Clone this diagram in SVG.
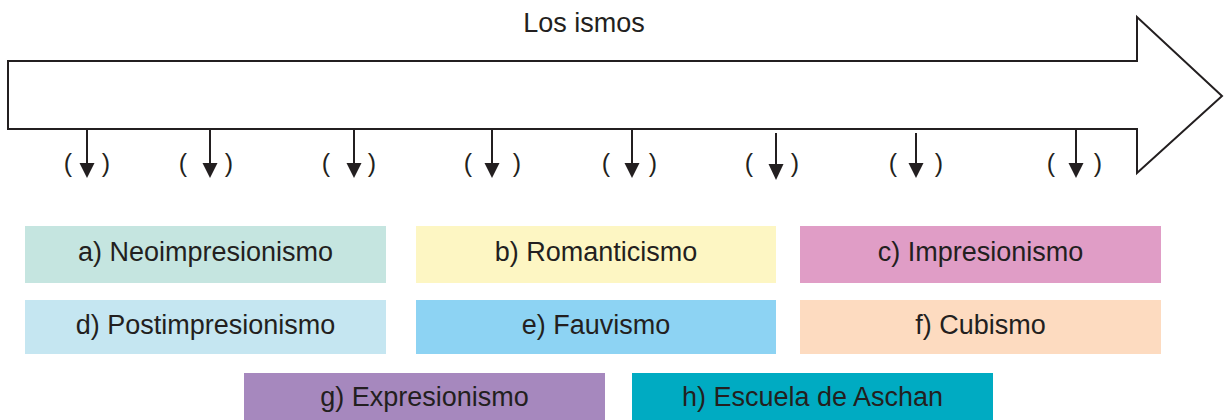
<svg xmlns="http://www.w3.org/2000/svg" width="1224" height="420" viewBox="0 0 1224 420">
<style>
.lbl{font-family:"Liberation Sans",Arial,sans-serif;font-size:27px;fill:#231f20;text-anchor:middle}
.par{font-family:"Liberation Sans",Arial,sans-serif;font-size:25px;fill:#231f20;text-anchor:middle}
.sh{stroke:#231f20;stroke-width:2;fill:none}
</style>
<rect width="1224" height="420" fill="#ffffff"/>
<g id="timeline">
<polygon points="8,61 1137,61 1137,17 1222,96 1137,173 1137,129 8,129" fill="#ffffff" stroke="#231f20" stroke-width="2"/>
<text class="lbl" x="584" y="32">Los ismos</text>
</g>
<g id="connectors">
<line class="sh" x1="87" y1="129" x2="87" y2="163"/><path d="M79.5,163 L94.5,163 L87,178 Z" fill="#231f20"/>
<line class="sh" x1="210" y1="129" x2="210" y2="163"/><path d="M202.5,163 L217.5,163 L210,178 Z" fill="#231f20"/>
<line class="sh" x1="354" y1="129" x2="354" y2="163"/><path d="M346.5,163 L361.5,163 L354,178 Z" fill="#231f20"/>
<line class="sh" x1="492" y1="129" x2="492" y2="163"/><path d="M484.5,163 L499.5,163 L492,178 Z" fill="#231f20"/>
<line class="sh" x1="632" y1="129" x2="632" y2="163"/><path d="M624.5,163 L639.5,163 L632,178 Z" fill="#231f20"/>
<line class="sh" x1="776" y1="133" x2="776" y2="164"/><path d="M768.5,164 L783.5,164 L776,180 Z" fill="#231f20"/>
<line class="sh" x1="916" y1="133" x2="916" y2="163"/><path d="M908.5,163 L923.5,163 L916,178 Z" fill="#231f20"/>
<line class="sh" x1="1076" y1="129" x2="1076" y2="163"/><path d="M1068.5,163 L1083.5,163 L1076,178 Z" fill="#231f20"/>
</g>
<g id="blanks">
<text class="par" x="68" y="172">(</text><text class="par" x="106" y="172">)</text>
<text class="par" x="183" y="172">(</text><text class="par" x="229" y="172">)</text>
<text class="par" x="326" y="172">(</text><text class="par" x="372" y="172">)</text>
<text class="par" x="468" y="172">(</text><text class="par" x="517" y="172">)</text>
<text class="par" x="606" y="172">(</text><text class="par" x="653" y="172">)</text>
<text class="par" x="749" y="172">(</text><text class="par" x="795" y="172">)</text>
<text class="par" x="893" y="172">(</text><text class="par" x="939" y="172">)</text>
<text class="par" x="1051" y="172">(</text><text class="par" x="1098" y="172">)</text>
</g>
<g id="a"><rect x="25" y="226" width="361" height="57" fill="#c5e5e0"/><text class="lbl" x="205.5" y="261">a) Neoimpresionismo</text></g>
<g id="b"><rect x="416" y="226" width="360" height="57" fill="#fdf6c3"/><text class="lbl" x="596" y="261">b) Romanticismo</text></g>
<g id="c"><rect x="800" y="226" width="361" height="57" fill="#e09dc6"/><text class="lbl" x="980.5" y="261">c) Impresionismo</text></g>
<g id="d"><rect x="25" y="300" width="361" height="54" fill="#c5e6f1"/><text class="lbl" x="205.5" y="334">d) Postimpresionismo</text></g>
<g id="e"><rect x="416" y="300" width="360" height="54" fill="#8dd3f3"/><text class="lbl" x="596" y="334">e) Fauvismo</text></g>
<g id="f"><rect x="800" y="300" width="361" height="54" fill="#fddbc0"/><text class="lbl" x="980.5" y="334">f) Cubismo</text></g>
<g id="g"><rect x="244" y="373" width="361" height="47" fill="#a688be"/><text class="lbl" x="424.5" y="406">g) Expresionismo</text></g>
<g id="h"><rect x="632" y="373" width="361" height="47" fill="#00abc2"/><text class="lbl" x="812.5" y="406">h) Escuela de Aschan</text></g>
</svg>
